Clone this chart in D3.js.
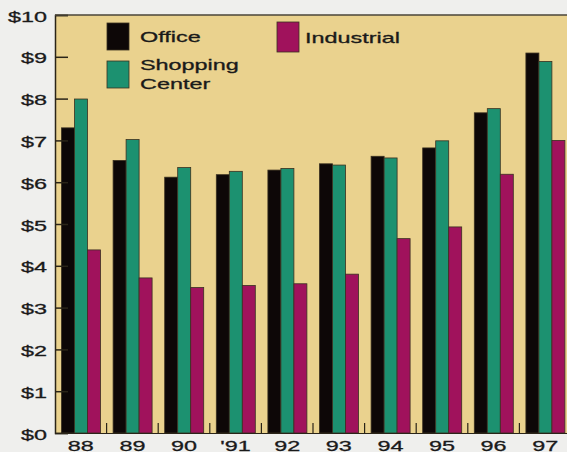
<!DOCTYPE html>
<html>
<head>
<meta charset="utf-8">
<script src="https://cdn.jsdelivr.net/npm/d3@7"></script>
<style>
  html, body { margin: 0; padding: 0; background: #efefed; }
  svg { display: block; }
  text { font-family: "Liberation Sans", Arial, Helvetica, sans-serif; fill: #1a1a1a; }
</style>
</head>
<body>
<div id="chart"></div>
<script>
const years = ["88", "89", "90", "'91", "92", "93", "94", "95", "96", "97"];
const seriesNames = ["Office", "Shopping Center", "Industrial"];
const office = [7.30, 6.52, 6.12, 6.18, 6.29, 6.44, 6.62, 6.82, 7.66, 9.09];
const shopping = [7.99, 7.02, 6.35, 6.26, 6.33, 6.41, 6.58, 6.99, 7.76, 8.89];
const industrial = [4.38, 3.71, 3.48, 3.53, 3.57, 3.80, 4.65, 4.93, 6.19, 7.00];
const yTicks = [0, 1, 2, 3, 4, 5, 6, 7, 8, 9, 10];

const colors = ["#0d0707", "#1c9170", "#a0125c"];

const width = 567;
const height = 452;
const plotLeft = 55;
const plotTop = 15;
const plotBottom = 433;
const bandWidth = 51.6;
const barOffset = 6.5;
const barWidth = 13;
const fontSize = 15;
const stretch = 1.56; // the lettering in the original is drawn wide

const svg = d3.select("#chart")
    .append("svg")
    .attr("width", width)
    .attr("height", height);

const x = d3.scaleBand()
    .domain(years)
    .range([plotLeft, plotLeft + bandWidth * years.length])
    .padding(0);

const xSub = d3.scaleBand()
    .domain(seriesNames)
    .range([barOffset, barOffset + barWidth * seriesNames.length])
    .padding(0);

const y = d3.scaleLinear()
    .domain([0, 10])
    .range([plotBottom, plotTop]);

const addText = (tx, ty, str, anchor = "start") => {
    svg.append("text")
        .attr("transform", `translate(${tx},${ty}) scale(${stretch},1)`)
        .attr("text-anchor", anchor)
        .attr("font-size", fontSize)
        .attr("stroke", "#1a1a1a")
        .attr("stroke-width", 0.3)
        .text(str);
};

// plot background
svg.append("rect")
    .attr("x", plotLeft)
    .attr("y", plotTop)
    .attr("width", width - plotLeft)
    .attr("height", plotBottom - plotTop)
    .attr("fill", "#ead28e");

// bars
const rows = years.map((yr, i) => ({
    year: yr,
    values: [office[i], shopping[i], industrial[i]]
}));

const groups = svg.append("g")
    .selectAll("g")
    .data(rows)
    .join("g")
    .attr("transform", d => `translate(${x(d.year)},0)`);

groups.selectAll("rect")
    .data(d => d.values.map((v, k) => ({ key: seriesNames[k], value: v, k })))
    .join("rect")
    .attr("x", d => xSub(d.key))
    .attr("y", d => y(d.value))
    .attr("width", xSub.bandwidth())
    .attr("height", d => y(0) - y(d.value))
    .attr("fill", d => colors[d.k])
    .attr("stroke", "#3a3020")
    .attr("stroke-width", 0.8);

// y axis (ticks drawn inward, labels added by hand so they can be stretched)
const yAxis = d3.axisLeft(y)
    .tickValues(yTicks)
    .tickSize(-13)
    .tickFormat("");

const yg = svg.append("g")
    .attr("transform", `translate(${plotLeft},0)`)
    .call(yAxis);
yg.select(".domain").attr("stroke", "#2a2418").attr("stroke-width", 1.5);
yg.selectAll(".tick line").attr("stroke", "#2a2418").attr("stroke-width", 1.5);

yTicks.forEach(t => addText(47, y(t) + 6.5, "$" + t, "end"));

// top border
svg.append("line")
    .attr("x1", plotLeft)
    .attr("x2", width)
    .attr("y1", plotTop)
    .attr("y2", plotTop)
    .attr("stroke", "#4a4438")
    .attr("stroke-width", 1.5);

// x axis
const xAxis = d3.axisBottom(x)
    .tickSize(0)
    .tickFormat("");

const xg = svg.append("g")
    .attr("transform", `translate(0,${plotBottom})`)
    .call(xAxis);
xg.select(".domain").attr("stroke", "#2a2418").attr("stroke-width", 1.2);

years.forEach(yr => addText(x(yr) + x.bandwidth() / 2, 450.5, yr, "middle"));

// small ticks between year groups
svg.append("g")
    .selectAll("line")
    .data(years.slice(1))
    .join("line")
    .attr("x1", d => x(d))
    .attr("x2", d => x(d))
    .attr("y1", plotBottom)
    .attr("y2", plotBottom - 10)
    .attr("stroke", "#2a2418")
    .attr("stroke-width", 1.2);

// legend
const legendItems = [
    { name: "Office", lines: ["Office"], x: 107, y: 23, h: 27, tx: 140, ty: 42 },
    { name: "Shopping Center", lines: ["Shopping", "Center"], x: 107, y: 61, h: 27, tx: 140, ty: 69.5 },
    { name: "Industrial", lines: ["Industrial"], x: 277, y: 22, h: 30, tx: 305, ty: 43 }
];

legendItems.forEach(item => {
    svg.append("rect")
        .attr("x", item.x)
        .attr("y", item.y)
        .attr("width", 22)
        .attr("height", item.h)
        .attr("fill", colors[seriesNames.indexOf(item.name)])
        .attr("stroke", "#3a3020")
        .attr("stroke-width", 0.8);
    item.lines.forEach((ln, j) => addText(item.tx, item.ty + j * 19, ln));
});
</script>
</body>
</html>
